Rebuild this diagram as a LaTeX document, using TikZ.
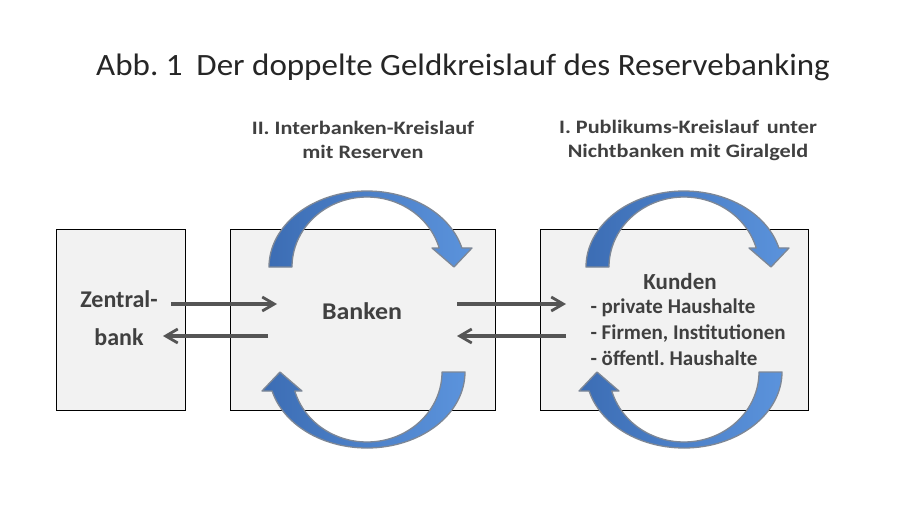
\documentclass[tikz,border=0pt]{standalone}
\usepackage{fontspec}
\setmainfont{Carlito}
\newfontfamily\titlefont[FakeStretch=1.065]{Carlito}
\newfontfamily\lblfont[FakeStretch=1.17]{Carlito}
\newfontfamily\bankfont[FakeStretch=1.08]{Carlito}
\usetikzlibrary{arrows.meta}
\definecolor{boxfill}{HTML}{F2F2F2}
\definecolor{txt}{HTML}{404040}
\definecolor{conn}{HTML}{555555}
\definecolor{arrdark}{HTML}{3C6DB4}
\definecolor{arrlight}{HTML}{5B93DC}
\definecolor{arredge}{HTML}{7D8796}
\definecolor{titlecol}{HTML}{262626}
\begin{document}
\begin{tikzpicture}[x=1pt,y=-1pt,
  box/.style={draw=black, line width=0.9pt, fill=boxfill, inner sep=0pt, anchor=north west},
  flow/.style={draw=conn, line width=3.1pt, -{Straight Barb[length=12pt,width=14pt,line width=2.8pt]}},
  lbl/.style={text=txt, font=\lblfont\bfseries\fontsize{19}{24}\selectfont, align=center},
  body/.style={text=txt, font=\bfseries\fontsize{21}{26}\selectfont},
  curved/.pic={
    \draw[left color=arrdark, right color=arrlight, draw=arredge, line width=1.3pt, line join=round]
      plot[domain=180:345.5, samples=60, variable=\t] ({98*cos(\t)},{76*sin(\t)})
      -- (105,-19) -- (87,0) -- (65,-19)
      -- plot[domain=344.25:180, samples=60, variable=\t] ({75*cos(\t)},{70*sin(\t)})
      -- cycle;
  }
]
\useasboundingbox[fill=white] (0,0) rectangle (919,515);

% title
\node[text=titlecol, font=\titlefont\fontsize{31}{36}\selectfont] (title) at (463,67)
  {Abb.\ 1\hspace{0.45em}Der doppelte Geldkreislauf des Reservebanking};

% circuit labels
\node[lbl] (l2) at (363,140) {II.\ Interbanken-Kreislauf\\mit Reserven};
\node[lbl] (l1) at (688,140) {I.\ Publikums-Kreislauf\hspace{0.4em}unter\\Nichtbanken mit Giralgeld};

% boxes
\node[box, minimum width=129pt, minimum height=181pt] (zb) at (56,229) {};
\node[box, minimum width=265pt, minimum height=181pt] (bk) at (230,229) {};
\node[box, minimum width=268pt, minimum height=181pt] (kd) at (540,229) {};

% curved arrows
\pic at (367,267) {curved};
\pic[rotate=180] at (367,372) {curved};
\pic at (684,267) {curved};
\pic[rotate=180] at (684,372) {curved};

% texts in boxes
\node[body, font=\bfseries\fontsize{24}{38}\selectfont, align=center] (zbt) at (119,318) {Zentral-\\bank};
\node[body, font=\bankfont\bfseries\fontsize{24}{26}\selectfont] (bkt) at (362,311) {Banken};
\node[body, font=\bfseries\fontsize{23}{26}\selectfont] (kdt) at (680,282) {Kunden};
\node[body, anchor=west, align=left] (kdl) at (587,332)
  {- private Haushalte\\- Firmen, Institutionen\\- öffentl.\ Haushalte};

% connectors
\coordinate (a1s) at (171,304); \coordinate (a1e) at (277,304);
\coordinate (a2s) at (268,336); \coordinate (a2e) at (163,336);
\coordinate (a3s) at (457,304); \coordinate (a3e) at (566,304);
\coordinate (a4s) at (566,336); \coordinate (a4e) at (457,336);
\draw[flow] (a1s) -- (a1e);
\draw[flow] (a2s) -- (a2e);
\draw[flow] (a3s) -- (a3e);
\draw[flow] (a4s) -- (a4e);
\end{tikzpicture}
\end{document}
